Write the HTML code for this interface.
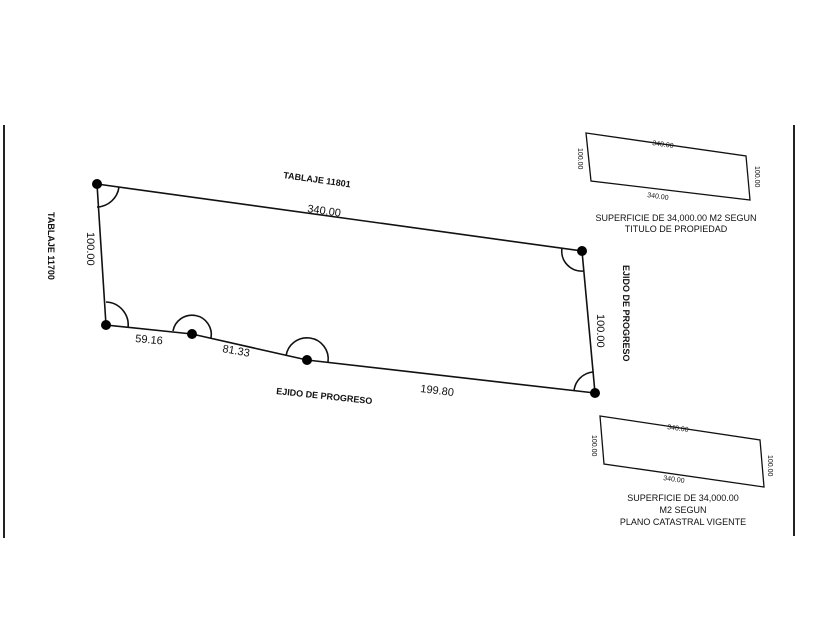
<!DOCTYPE html>
<html><head><meta charset="utf-8"><style>
html,body{margin:0;padding:0;background:#fff;width:840px;height:630px;overflow:hidden}
text{font-family:"Liberation Sans",Arial,sans-serif;fill:#111}
</style></head><body>
<svg width="840" height="630" viewBox="0 0 840 630" xmlns="http://www.w3.org/2000/svg">
<line x1="4" y1="125" x2="4" y2="538" stroke="#222" stroke-width="2"/>
<line x1="794" y1="125" x2="794" y2="536" stroke="#222" stroke-width="2"/>
<g stroke="#111" stroke-width="1.6" fill="none">
<polygon points="97,184 582,251 595,393 307,360 192,334 106,325"/>
<!-- angle arcs -->
<path d="M97,207 A23,23 0 0 0 119,187"/>
<path d="M106,302 A23,23 0 0 1 128,328"/>
<path d="M173,331 A19,19 0 0 1 211,338"/>
<path d="M286,356 A21,21 0 0 1 328,362"/>
<path d="M562,248 A20,20 0 0 0 584,271"/>
<path d="M574,391 A21,21 0 0 1 593,372"/>
<polygon points="586,133 746,156 750,200 591,181" stroke-width="1.3"/>
<polygon points="600,416 760,440 764,487 604,464" stroke-width="1.3"/>
</g>
<g fill="#000">
<circle cx="97" cy="184" r="5"/><circle cx="582" cy="251" r="5"/><circle cx="595" cy="393" r="5"/>
<circle cx="307" cy="360" r="5"/><circle cx="192" cy="334" r="5"/><circle cx="106" cy="325" r="5"/>
</g>
<text x="283" y="178" font-size="9" font-weight="bold" transform="rotate(8 283 178)">TABLAJE 11801</text>
<text x="307" y="212" font-size="11" transform="rotate(8 307 212)">340.00</text>
<text x="87" y="232" font-size="11" transform="rotate(90 87 232)">100.00</text>
<text x="48" y="212" font-size="9" font-weight="bold" transform="rotate(90 48 212)">TABLAJE 11700</text>
<text x="135" y="342" font-size="11" transform="rotate(5 135 342)">59.16</text>
<text x="222" y="352" font-size="11" transform="rotate(10 222 352)">81.33</text>
<text x="420" y="392" font-size="11" transform="rotate(7 420 392)">199.80</text>
<text x="276" y="394" font-size="9" font-weight="bold" transform="rotate(6 276 394)">EJIDO DE PROGRESO</text>
<text x="597" y="314" font-size="11" transform="rotate(90 597 314)">100.00</text>
<text x="623" y="265" font-size="9" font-weight="bold" transform="rotate(90 623 265)">EJIDO DE PROGRESO</text>
<!-- upper small -->
<text x="652" y="145" font-size="7" transform="rotate(8 652 145)">340.00</text>
<text x="647" y="197" font-size="7" transform="rotate(8 647 197)">340.00</text>
<text x="578" y="148" font-size="7" transform="rotate(90 578 148)">100.00</text>
<text x="755" y="166" font-size="7" transform="rotate(90 755 166)">100.00</text>
<text x="676" y="221" font-size="9" text-anchor="middle">SUPERFICIE DE 34,000.00 M2 SEGUN</text>
<text x="676" y="232" font-size="9" text-anchor="middle">TITULO DE PROPIEDAD</text>
<!-- lower small -->
<text x="667" y="429" font-size="7" transform="rotate(8 667 429)">340.00</text>
<text x="663" y="480" font-size="7" transform="rotate(8 663 480)">340.00</text>
<text x="592" y="435" font-size="7" transform="rotate(90 592 435)">100.00</text>
<text x="768" y="455" font-size="7" transform="rotate(90 768 455)">100.00</text>
<text x="683" y="501" font-size="9" text-anchor="middle">SUPERFICIE DE 34,000.00</text>
<text x="683" y="513" font-size="9" text-anchor="middle">M2 SEGUN</text>
<text x="683" y="525" font-size="9" text-anchor="middle">PLANO CATASTRAL VIGENTE</text>
</svg>
</body></html>
